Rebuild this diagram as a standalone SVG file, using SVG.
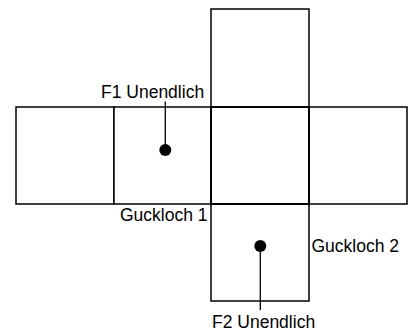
<svg xmlns="http://www.w3.org/2000/svg" width="411" height="331" viewBox="0 0 411 331">
<style>
.face{fill:#fff;stroke:#000;stroke-width:1.5}
.center{fill:none;stroke:#000;stroke-width:2}
.lbl{font-family:"Liberation Sans",Arial,sans-serif;font-size:17.5px;fill:#000}
.conn{stroke:#000;stroke-width:1.3;fill:none}
.dot{fill:#000}
</style>
<g id="face-top"><rect class="face" x="211" y="9" width="98" height="98"/></g>
<g id="face-left"><rect class="face" x="16" y="107" width="98" height="97"/></g>
<g id="face-f1"><rect class="face" x="114" y="107" width="97" height="97"/></g>
<g id="face-right"><rect class="face" x="309" y="107" width="98" height="97"/></g>
<g id="face-bottom"><rect class="face" x="211" y="204" width="98" height="97"/></g>
<g id="face-center"><rect class="center" x="211" y="107" width="98" height="97"/></g>
<g id="connectors">
<line class="conn" x1="165.3" y1="101.5" x2="165.3" y2="150"/>
<line class="conn" x1="260.3" y1="246" x2="260.3" y2="310"/>
</g>
<g id="point-f1"><circle class="dot" cx="165.3" cy="150" r="6"/></g>
<g id="point-f2"><circle class="dot" cx="260.3" cy="246" r="6"/></g>
<g id="label-f1"><text class="lbl" x="101" y="97.5">F1 Unendlich</text></g>
<g id="label-g1"><text class="lbl" x="207.5" y="221" text-anchor="end">Guckloch 1</text></g>
<g id="label-g2"><text class="lbl" x="311.5" y="252">Guckloch 2</text></g>
<g id="label-f2"><text class="lbl" x="212" y="327.5">F2 Unendlich</text></g>
</svg>
